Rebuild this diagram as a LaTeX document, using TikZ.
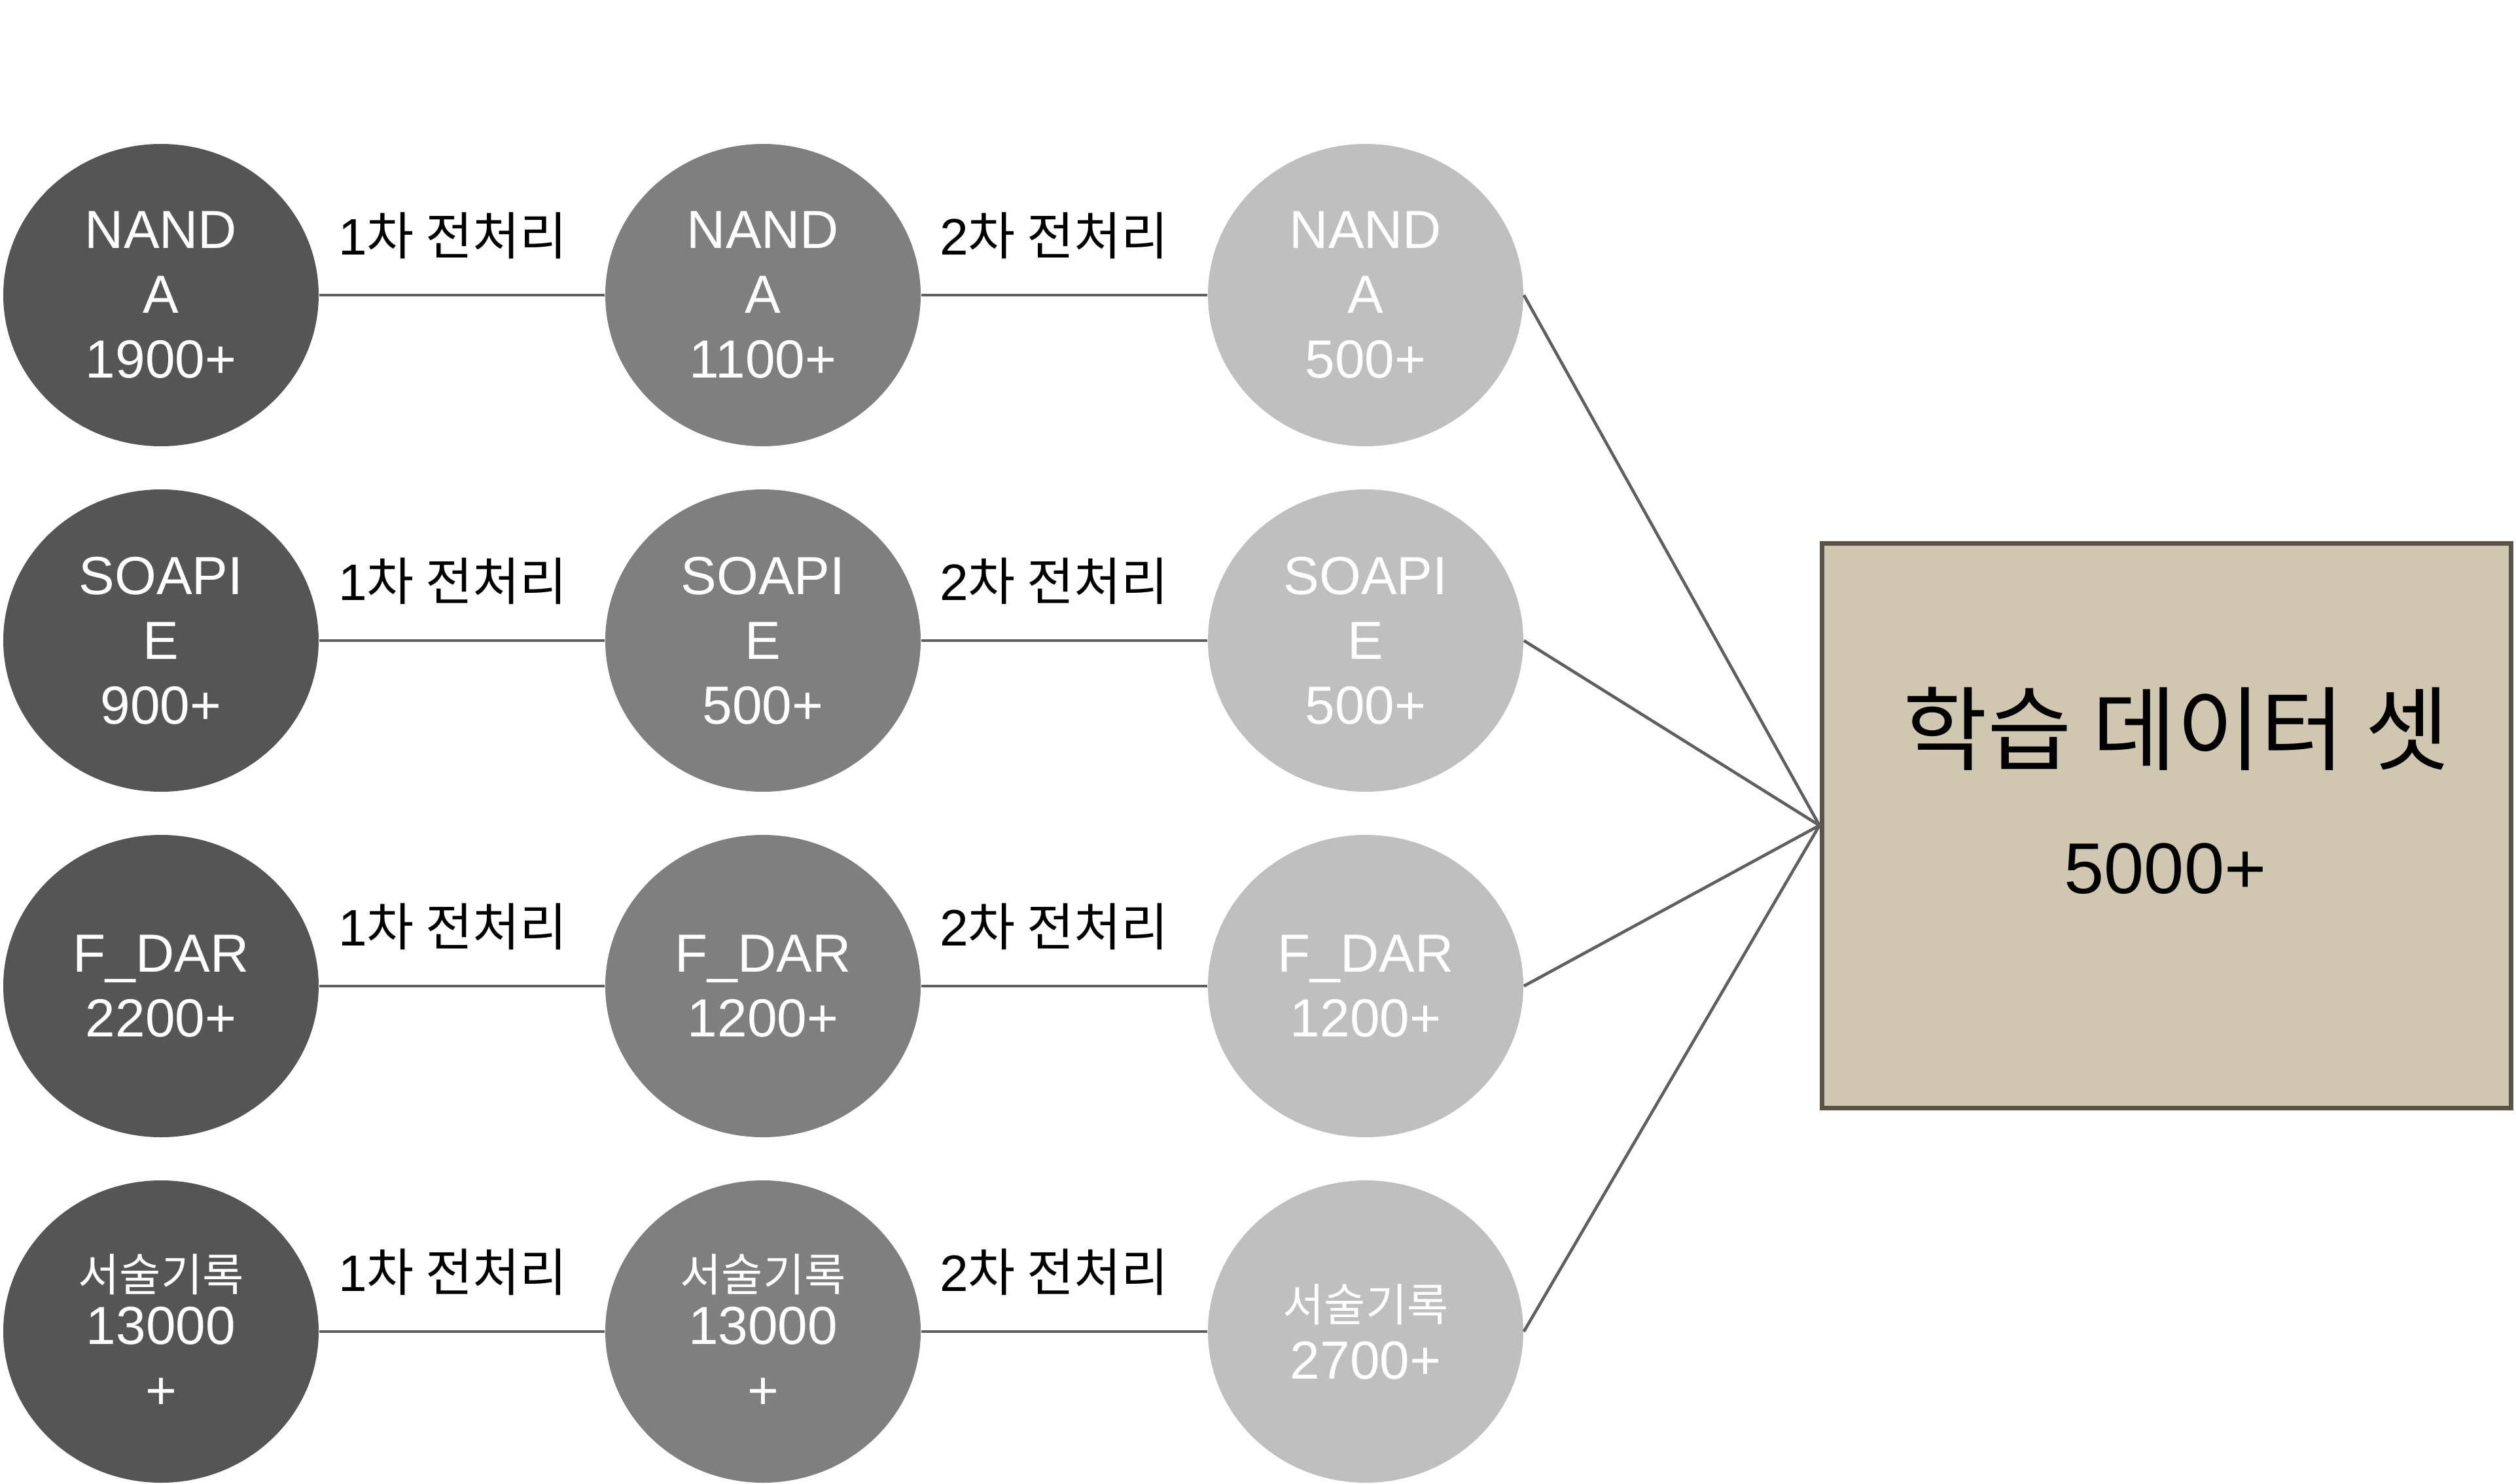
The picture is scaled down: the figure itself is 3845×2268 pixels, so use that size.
\documentclass[tikz,border=0pt]{standalone}
\usepackage{fontspec}
\setmainfont{Liberation Sans}
\newfontfamily\krfont{Noto Sans CJK KR}
\usetikzlibrary{shapes.geometric}
\definecolor{gA}{HTML}{555555}
\definecolor{gB}{HTML}{7F7F7F}
\definecolor{gC}{HTML}{BFBFBF}
\definecolor{lineC}{HTML}{5F5F5F}
\definecolor{tanF}{HTML}{D0C7B0}
\definecolor{tanD}{HTML}{5A5444}
\newcommand\smallkr[1]{{\fontsize{17.2}{19}\selectfont\krfont #1}}
\begin{document}
\begin{tikzpicture}[x=0.25pt,y=-0.25pt,
  blob/.style={ellipse, minimum width=120.5pt, minimum height=115.5pt, inner sep=0pt,
    text=white, align=center, font=\fontsize{20.5}{24.75}\selectfont},
  darkblob/.style={blob, fill=gA},
  midblob/.style={blob, fill=gB},
  lightblob/.style={blob, fill=gC},
  stagelbl/.style={inner sep=0pt, font=\fontsize{19.6}{23}\selectfont},
  conn/.style={draw=lineC, line width=1.15pt},
  setbox/.style={draw=tanD, fill=tanF, line width=1.75pt, minimum width=263.25pt, minimum height=215.75pt, inner sep=0pt}]
\useasboundingbox (0,0) rectangle (3845,2268);

% row 1
\node[darkblob]  (a1) at (246,451)  {NAND\\A\\1900+};
\node[midblob]   (b1) at (1166,451) {NAND\\A\\1100+};
\node[lightblob] (c1) at (2087,451) {NAND\\A\\500+};
% row 2
\node[darkblob]  (a2) at (246,979)  {SOAPI\\E\\900+};
\node[midblob]   (b2) at (1166,979) {SOAPI\\E\\500+};
\node[lightblob] (c2) at (2087,979) {SOAPI\\E\\500+};
% row 3
\node[darkblob]  (a3) at (246,1507)  {F\_DAR\\2200+};
\node[midblob]   (b3) at (1166,1507) {F\_DAR\\1200+};
\node[lightblob] (c3) at (2087,1507) {F\_DAR\\1200+};
% row 4
\node[darkblob]  (a4) at (246,2035)  {\smallkr{서술기록}\\[-4.5pt]13000\\+};
\node[midblob]   (b4) at (1166,2035) {\smallkr{서술기록}\\[-4.5pt]13000\\+};
\node[lightblob] (c4) at (2087,2035) {\smallkr{서술기록}\\[-2.75pt]2700+};

% stage labels
\foreach \r/\y in {1/451,2/979,3/1507,4/2035}{
  \node[stagelbl] (s1\r) at (692,\y-91)  {1{\krfont 차 전처리}};
  \node[stagelbl] (s2\r) at (1611,\y-91) {2{\krfont 차 전처리}};
}

% result box
\node[setbox] (set) at (3310.5,1261.5) {};
\node (settitle) at (3326,1114) {\fontsize{35}{40}\selectfont\krfont 학습 데이터 셋};
\node (setnum) at (3309,1328) {\fontsize{27.5}{33}\selectfont 5000+};

% connectors
\foreach \r in {1,2,3,4}{
  \draw[conn] (a\r) -- (b\r);
  \draw[conn] (b\r) -- (c\r);
  \draw[conn] (c\r.east) -- (set.west);
}
\end{tikzpicture}
\end{document}
